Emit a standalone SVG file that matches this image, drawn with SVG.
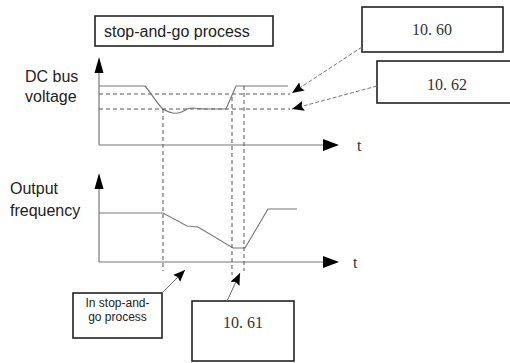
<svg xmlns="http://www.w3.org/2000/svg" width="510" height="363" viewBox="0 0 510 363">
<defs>
<style>
.box{fill:#fff;stroke:#222;stroke-width:1.6}
.lbl{font-family:"Liberation Sans",Arial,sans-serif;font-size:16px;fill:#222}
.sm{font-family:"Liberation Sans",Arial,sans-serif;font-size:12px;fill:#222}
.num{font-family:"Liberation Serif","Times New Roman",serif;font-size:16px;fill:#333}
.axis{stroke:#777;stroke-width:1.2;fill:none}
.curve{stroke:#777;stroke-width:1.2;fill:none}
.dash{stroke:#555;stroke-width:1;stroke-dasharray:4,3;fill:none}
.conn{stroke:#777;stroke-width:1;stroke-dasharray:4,2;fill:none}
.solidconn{stroke:#666;stroke-width:1;fill:none}
.head{fill:#000}
</style>
<marker id="ah" viewBox="0 0 12 10" refX="12" refY="5" markerWidth="12" markerHeight="10" markerUnits="userSpaceOnUse" orient="auto">
<path d="M0,0 L12,5 L0,10 L2,5 Z" fill="#000"/>
</marker>
</defs>
<rect width="510" height="363" fill="#fff"/>

<!-- upper chart -->
<g id="upper-chart">
<line class="axis" x1="99" y1="70" x2="99" y2="145"/>
<polygon class="head" points="99,57 94.5,73 103.5,73"/>
<line class="axis" x1="99" y1="145" x2="325" y2="145"/>
<polygon class="head" points="339,145 323,139 323,151"/>
<text class="num" x="357" y="151">t</text>
<line class="dash" x1="99" y1="94" x2="290" y2="94"/>
<line class="dash" x1="99" y1="109" x2="290" y2="109"/>
<path class="curve" d="M99,86 L145,86 C152,94 157,104 163,109 C168,112 173,114 178,113 C184,112 186,108 192,108 C198,108 200,109 206,109 L226,109 L236,86 L288,86"/>
</g>

<!-- lower chart -->
<g id="lower-chart">
<line class="axis" x1="99" y1="188" x2="99" y2="262"/>
<polygon class="head" points="99,173 94.5,189 103.5,189"/>
<line class="axis" x1="99" y1="262" x2="325" y2="262"/>
<polygon class="head" points="339,262 323,256 323,268"/>
<text class="num" x="353" y="268">t</text>
<path class="curve" d="M99,213 L163,213 L187,226 L198,227 L233,248 L245,248 L268,209 L297,209"/>
</g>

<!-- vertical dashed markers -->
<g id="markers">
<line class="dash" x1="163" y1="109" x2="163" y2="271"/>
<line class="dash" x1="232" y1="97" x2="232" y2="275"/>
<line class="dash" x1="244" y1="86" x2="244" y2="271"/>
</g>

<!-- axis labels -->
<g id="label-dc">
<text class="lbl" x="25" y="82">DC bus</text>
<text class="lbl" x="25" y="102">voltage</text>
</g>
<g id="label-freq">
<text class="lbl" x="10" y="194">Output</text>
<text class="lbl" x="10" y="216">frequency</text>
</g>

<!-- nodes -->
<g id="title">
<rect class="box" x="95" y="16" width="178" height="30"/>
<text class="lbl" x="104" y="37">stop-and-go process</text>
</g>
<g id="box-1060">
<rect class="box" x="362" y="7" width="141" height="45"/>
<text class="num" x="432" y="35" text-anchor="middle">10. 60</text>
</g>
<g id="box-1062">
<rect class="box" x="377" y="61" width="140" height="42"/>
<text class="num" x="447" y="90" text-anchor="middle">10. 62</text>
</g>
<g id="box-instop">
<rect class="box" x="73" y="293" width="89" height="45"/>
<text class="sm" x="117.5" y="307" text-anchor="middle">In stop-and-</text>
<text class="sm" x="117.5" y="321" text-anchor="middle">go process</text>
</g>
<g id="box-1061">
<rect class="box" x="192" y="301" width="102" height="60"/>
<text class="num" x="243" y="328" text-anchor="middle">10. 61</text>
</g>

<!-- connectors -->
<g id="connectors">
<line class="conn" x1="362" y1="47" x2="292" y2="93" marker-end="url(#ah)"/>
<line class="conn" x1="377" y1="86" x2="292" y2="109" marker-end="url(#ah)"/>
<line class="solidconn" x1="162" y1="293" x2="185" y2="270" marker-end="url(#ah)"/>
<line class="solidconn" x1="227" y1="301" x2="240" y2="273" marker-end="url(#ah)"/>
</g>
</svg>
